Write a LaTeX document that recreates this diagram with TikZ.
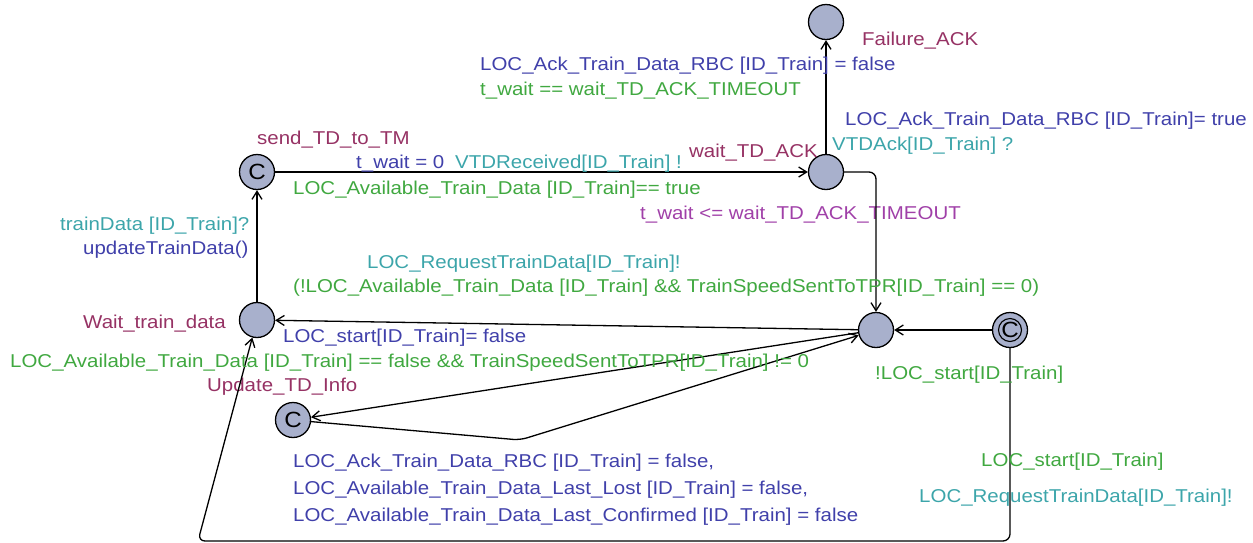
\documentclass[tikz,border=0pt]{standalone}
\usepackage{fontspec}
\setmainfont[FakeStretch=1.1]{Liberation Sans}
\usetikzlibrary{arrows.meta}
\definecolor{cname}{RGB}{150,50,100}
\definecolor{cguard}{RGB}{64,168,64}
\definecolor{csync}{RGB}{60,165,170}
\definecolor{cassign}{RGB}{64,64,170}
\definecolor{cinv}{RGB}{160,64,168}
\definecolor{cloc}{RGB}{168,176,204}
\tikzset{
  loc/.style={circle, draw=black, fill=cloc, line width=1.3pt, minimum size=35pt, inner sep=0pt},
  committed/.style={loc, font=\fontsize{22}{22}\selectfont},
  lbl/.style={anchor=base west, inner sep=0pt, font=\fontsize{18.6}{22}\selectfont},
  edge/.style={line width=1.3pt, -{Straight Barb[length=8pt,width=10pt,line width=1.3pt]}, rounded corners=7pt},
}
\begin{document}
\begin{tikzpicture}[x=1pt,y=-1pt]
\useasboundingbox (0,0) rectangle (1253,542);
% locations
\node[loc] (fail) at (826,22) {};
\node[loc] (wait) at (826,172) {};
\node[committed] (send) at (257,172) {C};
\node[loc] (wtd) at (257,320) {};
\node[loc] (cen) at (876,330) {};
\node[committed] (upd) at (293,420) {C};
\node[committed] (init) at (1010,330) {C};
\draw[line width=1.1pt] (init) circle (11.5pt);
% location names
\node[lbl, text=cname] (nfail) at (862,45) {Failure\_ACK};
\node[lbl, text=cname] (nwait) at (689,157) {wait\_TD\_ACK};
\node[lbl, text=cname] (nsend) at (257,144) {send\_TD\_to\_TM};
\node[lbl, text=cname] (nwtd) at (83,328) {Wait\_train\_data};
\node[lbl, text=cname] (nupd) at (207,391) {Update\_TD\_Info};
\node[lbl, text=cinv] (iwait) at (640,219) {t\_wait <= wait\_TD\_ACK\_TIMEOUT};
% corner coordinates
\coordinate (c1) at (520,440);
\coordinate (br) at (1010,541);
\coordinate (bl) at (198,541);
% edges
\draw[edge] (send) -- (wait);
\draw[edge] (wait) -- (fail);
\draw[edge] (wait) -| (cen);
\draw[edge] (cen) -- (wtd);
\draw[edge] (cen) -- (upd);
\draw[edge] (upd) -- (c1) -- (cen);
\draw[edge] (init) -- (cen);
\draw[edge] (init) -- (br) -- (bl) -- (wtd);
\draw[edge] (wtd) -- (send);
% edge labels
\node[lbl, text=cassign] (l1) at (480,70) {LOC\_Ack\_Train\_Data\_RBC [ID\_Train] = false};
\node[lbl, text=cguard] (l2) at (480,95) {t\_wait == wait\_TD\_ACK\_TIMEOUT};
\node[lbl, text=cassign] (l3) at (845,125) {LOC\_Ack\_Train\_Data\_RBC [ID\_Train]= true};
\node[lbl, text=csync] (l4) at (832,150) {VTDAck[ID\_Train] ?};
\node[lbl, text=cassign] (l5) at (356,168) {t\_wait = 0};
\node[lbl, text=csync] (l6) at (455,168) {VTDReceived[ID\_Train] !};
\node[lbl, text=cguard] (l7) at (293,194) {LOC\_Available\_Train\_Data [ID\_Train]== true};
\node[lbl, text=csync] (l8) at (60,230) {trainData [ID\_Train]?};
\node[lbl, text=cassign] (l9) at (83,254) {updateTrainData()};
\node[lbl, text=csync] (l10) at (367,268) {LOC\_RequestTrainData[ID\_Train]!};
\node[lbl, text=cguard] (l11) at (293,292) {(!LOC\_Available\_Train\_Data [ID\_Train] \&\& TrainSpeedSentToTPR[ID\_Train] == 0)};
\node[lbl, text=cassign] (l12) at (283,342) {LOC\_start[ID\_Train]= false};
\node[lbl, text=cguard] (l13) at (10,367) {LOC\_Available\_Train\_Data [ID\_Train] == false \&\& TrainSpeedSentToTPR[ID\_Train] != 0};
\node[lbl, text=cguard] (l14) at (875,379) {!LOC\_start[ID\_Train]};
\node[lbl, text=cassign] (l15) at (293,467) {LOC\_Ack\_Train\_Data\_RBC [ID\_Train] = false,};
\node[lbl, text=cassign] (l16) at (293,494) {LOC\_Available\_Train\_Data\_Last\_Lost [ID\_Train] = false,};
\node[lbl, text=cassign] (l17) at (293,521) {LOC\_Available\_Train\_Data\_Last\_Confirmed [ID\_Train] = false};
\node[lbl, text=cguard] (l18) at (981,466) {LOC\_start[ID\_Train]};
\node[lbl, text=csync] (l19) at (919,502) {LOC\_RequestTrainData[ID\_Train]!};
\end{tikzpicture}
\end{document}
